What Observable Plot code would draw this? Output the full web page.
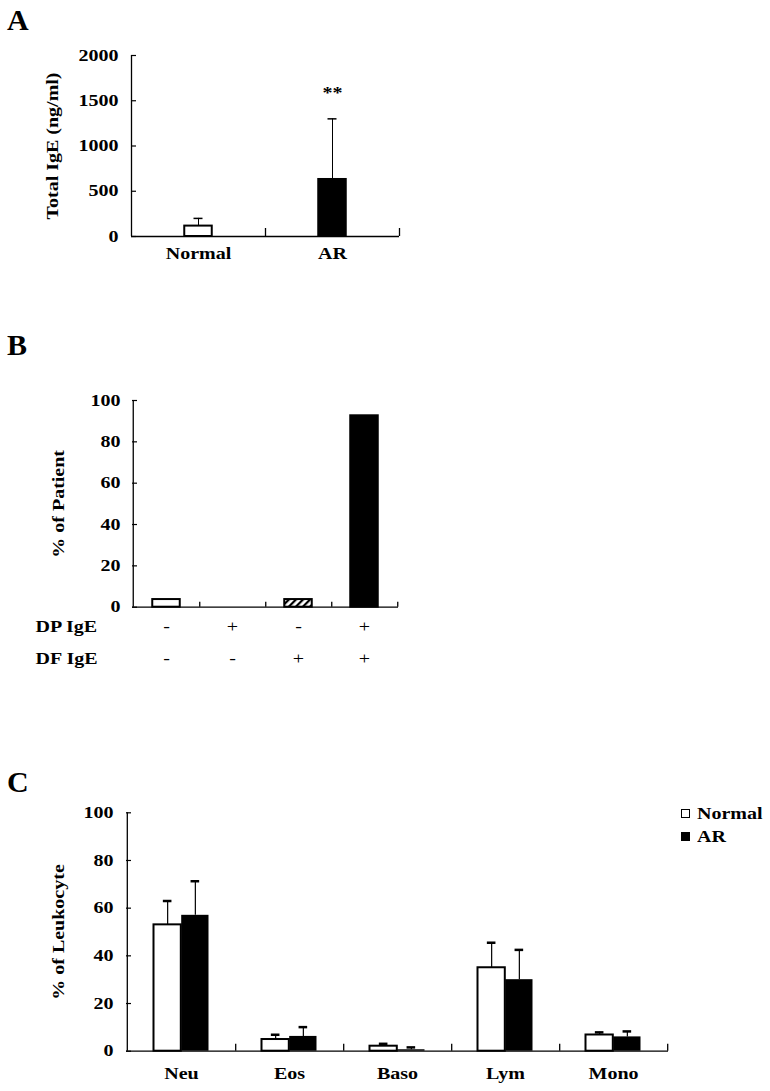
<!DOCTYPE html>
<html><head><meta charset="utf-8">
<script src="https://cdn.jsdelivr.net/npm/d3@7"></script>
<script src="https://cdn.jsdelivr.net/npm/@observablehq/plot@0.6"></script>
<style>
html,body{margin:0;padding:0;background:#fff;}
body{width:770px;height:1091px;position:relative;overflow:hidden;font-family:"Liberation Serif",serif;}
.panel{position:absolute;left:0;}
.letter{position:absolute;left:7px;font-weight:bold;font-size:30px;font-family:"Liberation Serif",serif;line-height:30px;}
.legtext{position:absolute;font-weight:bold;font-size:16px;font-family:"Liberation Serif",serif;line-height:16px;transform:scaleX(1.25);transform-origin:left center;white-space:nowrap;}
.legbox{position:absolute;width:7px;height:7px;border:1.5px solid #000;}
</style></head><body>
<script>
// ---------- Panel A data ----------
const igeGroups = ["Normal", "AR"];
const igeMean = [115, 630];
const igeSD = [85, 670];
const igeTicks = [0, 500, 1000, 1500, 2000];
const igeSignif = ["", "**"];

// ---------- Panel B data ----------
const dpIgE = ["-", "+", "-", "+"];
const dfIgE = ["-", "-", "+", "+"];
const patientPct = [3.7, 0, 3.7, 92.6];
const patientTicks = [0, 20, 40, 60, 80, 100];

// ---------- Panel C data ----------
const cellTypes = ["Neu", "Eos", "Baso", "Lym", "Mono"];
const normalMean = [53, 4.9, 2.1, 35, 6.8];
const normalSD = [10, 2, 1, 10.5, 1.1];
const arMean = [57, 6.2, 0.6, 30, 6.0];
const arSD = [14.3, 3.9, 1, 12.5, 2.3];
const leukoTicks = [0, 20, 40, 60, 80, 100];
const legendLabels = ["Normal", "AR"];

const W = 770;
const baseStyle = {fontFamily: "Liberation Serif, serif", fontSize: "16px", fontWeight: "bold", color: "#000", background: "transparent", overflow: "visible"};

function stretch(svg, k) {
  svg.querySelectorAll("text").forEach(t => {
    const spans = t.querySelectorAll("tspan");
    const targets = spans.length ? Array.from(spans) : [t];
    targets.forEach(s => {
      const l = s.getComputedTextLength();
      if (l > 0) { s.setAttribute("textLength", l * k); s.setAttribute("lengthAdjust", "spacingAndGlyphs"); }
    });
  });
}
function place(node, top) {
  const d = document.createElement("div");
  d.className = "panel"; d.style.top = top + "px";
  d.appendChild(node); document.body.appendChild(d);
  stretch(node.tagName.toLowerCase() === "svg" ? node : node.querySelector("svg"), 1.25);
}
function letter(txt, top) {
  const d = document.createElement("div");
  d.className = "letter"; d.style.top = top + "px"; d.textContent = txt;
  document.body.appendChild(d);
}

// ---------- Panel A ----------
(function () {
  const H = 290, L = 131, R = 399, T = 55, B = 236;
  const step = (R - L) / igeGroups.length;
  const barW = 27.5, inset = (step - barW) / 2, capW = 9;
  const rows = igeGroups.map((g, i) => ({g, mean: igeMean[i], top: igeMean[i] + igeSD[i], sig: igeSignif[i]}));
  const chart = Plot.plot({
    width: W, height: H, marginLeft: L, marginRight: W - R, marginTop: T, marginBottom: H - B,
    style: baseStyle,
    x: {domain: igeGroups, padding: 0, tickSize: 0, tickPadding: 11, label: null},
    y: {domain: [0, 2000], ticks: igeTicks, tickSize: 0, tickPadding: 13, tickFormat: d => String(d),
        label: "Total IgE (ng/ml)", labelAnchor: "center", labelOffset: 85, labelArrow: "none"},
    marks: [
      Plot.ruleY(igeTicks, {y: d => d, insetRight: (R - L) - 5, strokeWidth: 1.2}),
      Plot.ruleX([igeGroups[0]], {x: d => d, dx: -step / 2, y1: 0, y2: 2000, strokeWidth: 1.3}),
      Plot.ruleX(igeGroups, {x: d => d, dx: step / 2, insetTop: (B - T) - 8, strokeWidth: 1.3}),
      Plot.ruleX(rows, {x: "g", y1: "mean", y2: "top", strokeWidth: 1}),
      Plot.tickY(rows, {x: "g", y: "top", insetLeft: (step - capW) / 2, insetRight: (step - capW) / 2, strokeWidth: 1.5}),
      Plot.barY(rows, {x: "g", y: "mean", fill: (d, i) => i ? "#000" : "#fff", stroke: "#000", strokeWidth: 2, insetLeft: inset, insetRight: inset}),
      Plot.ruleY([0], {strokeWidth: 1.3}),
      Plot.text(rows, {x: "g", y: "top", text: "sig", dy: -26, fontSize: 16})
    ]
  });
  place(chart, 0);
  letter("A", 5);
})();

// ---------- Panel B ----------
(function () {
  const top = 300, H = 400, L = 132, R = 398, T = 100, B = 306.7;
  const keys = dpIgE.map((d, i) => `DP${d} DF${dfIgE[i]}`);
  const n = keys.length, step = (R - L) / n;
  const barW = 28, inset = (step - barW) / 2;
  const fills = ["#fff", "#fff", "url(#hatchB)", "#000"];
  const rows = keys.map((k, i) => ({k, pct: patientPct[i], dp: dpIgE[i], df: dfIgE[i], fill: fills[i]}));
  const chart = Plot.plot({
    width: W, height: H, marginLeft: L, marginRight: W - R, marginTop: T, marginBottom: H - B,
    style: baseStyle,
    color: {type: "identity"},
    x: {domain: keys, padding: 0, axis: null},
    y: {domain: [0, 100], ticks: patientTicks, tickSize: 0, tickPadding: 12, tickFormat: d => String(d),
        label: "% of Patient", labelAnchor: "center", labelOffset: 80, labelArrow: "none"},
    marks: [
      Plot.ruleY(patientTicks, {y: d => d, insetRight: (R - L) - 5, strokeWidth: 1.2}),
      Plot.ruleX([keys[0]], {x: d => d, dx: -step / 2, y1: 0, y2: 100, strokeWidth: 1.3}),
      Plot.ruleX(keys, {x: d => d, dx: step / 2, insetTop: (B - T) - 5, strokeWidth: 1.3}),
      Plot.barY(rows.filter(d => d.pct > 0), {x: "k", y: "pct", fill: "fill", stroke: "#000", strokeWidth: 2, insetLeft: inset, insetRight: inset}),
      Plot.ruleY([0], {strokeWidth: 1.3}),
      Plot.text(rows, {x: "k", text: "dp", frameAnchor: "bottom", dy: 25, fontSize: 16, fontWeight: "normal"}),
      Plot.text(rows, {x: "k", text: "df", frameAnchor: "bottom", dy: 57, fontSize: 16, fontWeight: "normal"}),
      Plot.text(["DP IgE"], {text: d => d, frameAnchor: "bottom-left", textAnchor: "start", dx: 35 - L, dy: 25, fontSize: 16}),
      Plot.text(["DF IgE"], {text: d => d, frameAnchor: "bottom-left", textAnchor: "start", dx: 35 - L, dy: 57, fontSize: 16})
    ]
  });
  const svg = chart.tagName.toLowerCase() === "svg" ? chart : chart.querySelector("svg");
  const ns = "http://www.w3.org/2000/svg";
  const defs = document.createElementNS(ns, "defs");
  defs.innerHTML = '<pattern id="hatchB" patternUnits="userSpaceOnUse" width="5" height="5" patternTransform="rotate(45)"><rect width="5" height="5" fill="#fff"/><line x1="1" y1="0" x2="1" y2="5" stroke="#000" stroke-width="2.4"/></pattern>';
  svg.insertBefore(defs, svg.firstChild);
  place(chart, top);
  letter("B", 330);
})();

// ---------- Panel C ----------
(function () {
  const top = 720, H = 371, L = 126, R = 668, T = 92.3, B = 330.7;
  const step = (R - L) / cellTypes.length;
  const barW = 27.7, gIn = (step - 2 * barW) / 2, capW = 9;
  const normal = cellTypes.map((c, i) => ({c, mean: normalMean[i], top: normalMean[i] + normalSD[i]}));
  const ar = cellTypes.map((c, i) => ({c, mean: arMean[i], top: arMean[i] + arSD[i]}));
  const capIn = off => ({insetLeft: step / 2 + off - capW / 2, insetRight: step / 2 - off - capW / 2});
  const chart = Plot.plot({
    width: W, height: H, marginLeft: L, marginRight: W - R, marginTop: T, marginBottom: H - B,
    style: baseStyle,
    x: {domain: cellTypes, padding: 0, tickSize: 0, tickPadding: 16, label: null},
    y: {domain: [0, 100], ticks: leukoTicks, tickSize: 0, tickPadding: 13, tickFormat: d => String(d),
        label: "% of Leukocyte", labelAnchor: "center", labelOffset: 74, labelArrow: "none"},
    marks: [
      Plot.ruleY(leukoTicks, {y: d => d, insetRight: (R - L) - 5, strokeWidth: 1.2}),
      Plot.ruleX([cellTypes[0]], {x: d => d, dx: -step / 2, y1: 0, y2: 100, strokeWidth: 1.3}),
      Plot.ruleX(cellTypes, {x: d => d, dx: step / 2, insetTop: (B - T) - 7, strokeWidth: 1.3}),
      Plot.ruleX(normal, {x: "c", y1: "mean", y2: "top", dx: -barW / 2, strokeWidth: 1.2}),
      Plot.ruleX(ar, {x: "c", y1: "mean", y2: "top", dx: barW / 2, strokeWidth: 1.2}),
      Plot.tickY(normal, {x: "c", y: "top", ...capIn(-barW / 2), strokeWidth: 2.5}),
      Plot.tickY(ar, {x: "c", y: "top", ...capIn(barW / 2), strokeWidth: 2.5}),
      Plot.barY(normal, {x: "c", y: "mean", fill: "#fff", stroke: "#000", strokeWidth: 2, insetLeft: gIn, insetRight: gIn + barW}),
      Plot.barY(ar, {x: "c", y: "mean", fill: "#000", insetLeft: gIn + barW, insetRight: gIn}),
      Plot.ruleY([0], {strokeWidth: 1.3})
    ]
  });
  place(chart, top);
  letter("C", 767);
  // legend
  const items = [{y: 809, fill: "#fff"}, {y: 832, fill: "#000"}];
  legendLabels.forEach((lab, i) => {
    const b = document.createElement("div");
    b.className = "legbox"; b.style.left = "681px"; b.style.top = items[i].y + "px"; b.style.background = items[i].fill;
    document.body.appendChild(b);
    const t = document.createElement("div");
    t.className = "legtext"; t.style.left = "697px"; t.style.top = (items[i].y - 3) + "px"; t.textContent = lab;
    document.body.appendChild(t);
  });
})();
</script>
</body></html>
